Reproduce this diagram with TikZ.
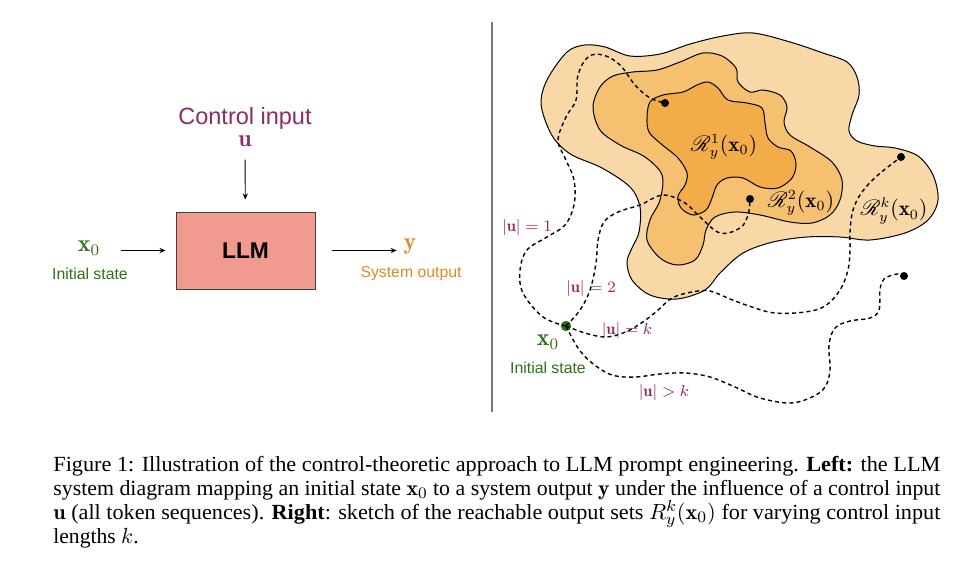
\documentclass[tikz,border=0pt]{standalone}
\usepackage{fontspec}
\usepackage{amsmath}
\usepackage{mathrsfs}
\usepackage{graphicx}
\newfontfamily\hv{Liberation Sans}
\newfontfamily\tm{Liberation Serif}
\usetikzlibrary{arrows.meta}
\definecolor{cpurple}{RGB}{142,42,102}
\definecolor{cgreen}{RGB}{46,112,22}
\definecolor{corange}{RGB}{218,140,36}
\definecolor{llmfill}{RGB}{241,154,143}
\definecolor{blobA}{RGB}{249,216,167}
\definecolor{blobB}{RGB}{245,192,112}
\definecolor{blobC}{RGB}{242,172,74}
\definecolor{sepgray}{RGB}{120,120,120}
\tikzset{
  arr/.style={-{Stealth[length=3pt,width=2.6pt]}, line width=0.45pt},
  blob/.style={draw=black, line width=0.5pt},
  traj/.style={line width=0.7pt, dash pattern=on 2pt off 1.6pt},
  dotn/.style={circle, fill=black, inner sep=0pt, minimum size=4pt},
  ulab/.style={text=cpurple, font=\fontsize{8.2}{9}\selectfont, inner sep=0pt},
  rlab/.style={font=\fontsize{10.5}{12}\selectfont, inner sep=0pt},
  bigm/.style={font=\fontsize{12}{14}\selectfont},
  sans/.style={font=\hv\fontsize{7.9}{9}\selectfont},
  capline/.style={anchor=base west, inner sep=0pt, font=\tm\fontsize{10.8}{13}\selectfont}
}
\newcommand{\capfit}[1]{\resizebox{443.5pt}{\height}{#1}}
\begin{document}
\begin{tikzpicture}[x=0.5pt,y=-0.5pt]
\useasboundingbox (0,0) rectangle (978,573);

% ---------- left: block diagram ----------
\node[text=cpurple, font=\hv\fontsize{11.75}{14}\selectfont] (ctl) at (245,118) {Control input};
\node[text=cpurple, bigm] (u) at (245,141) {$\mathbf{u}$};
\node[draw=black!75, line width=0.5pt, fill=llmfill, minimum width=69.5pt, minimum height=38.5pt,
      font=\hv\bfseries\fontsize{11.4}{14}\selectfont] (llm) at (245.5,250.5) {LLM};
\node[text=cgreen, bigm] (x0l) at (89,248) {$\mathbf{x}_0$};
\node[text=cgreen, sans] (isl) at (90,274) {Initial state};
\node[text=corange, bigm] (yo) at (410,247) {$\mathbf{y}$};
\node[text=corange, sans] (so) at (411,274) {System output};

\draw[arr, shorten <=3pt, shorten >=6pt] (u) -- (llm);
\draw[arr, shorten <=7pt, shorten >=5pt] (x0l.east |- llm.west) -- (llm.west);
\draw[arr, shorten <=8pt, shorten >=0pt] (llm.east) -- (yo.west |- llm.east);

% ---------- separator ----------
\draw[sepgray, line width=1pt] (492,22) -- (492,412);

% ---------- right: reachable sets ----------
\filldraw[blob, fill=blobA] plot[smooth cycle, tension=0.55] coordinates {
 (541,100) (548,78) (567,52) (585,45) (605,47) (630,56) (660,54) (690,44) (723,36) (753,33)
 (790,42) (823,53) (847,62) (857,77) (859,95) (852,115) (849,131) (857,141) (875,146) (895,148)
 (918,156) (933,175) (938,200) (928,220) (905,233) (870,240) (840,237) (807,237) (773,242)
 (743,253) (720,273) (705,290) (677,299) (650,295) (632,280) (627,262) (632,248) (639,232)
 (640,207) (630,187) (602,168) (572,155) (555,140) (545,120)};
\filldraw[blob, fill=blobB] plot[smooth cycle, tension=0.55] coordinates {
 (593,107) (600,130) (620,145) (645,157) (662,175) (660,200) (650,220) (647,240) (660,258)
 (677,265) (695,260) (703,245) (706,230) (715,217) (735,212) (760,215) (790,222) (812,223)
 (830,215) (840,200) (842,180) (832,162) (810,147) (790,135) (784,122) (787,107) (780,95)
 (763,90) (750,92) (738,82) (736,68) (722,56) (703,53) (680,62) (657,70) (633,72) (613,76) (600,87)};
\filldraw[blob, fill=blobC] plot[smooth cycle, tension=0.55] coordinates {
 (647,118) (650,102) (663,95) (683,92) (697,85) (708,82) (718,88) (728,100) (747,103) (762,108)
 (765,123) (768,138) (778,147) (791,151) (796,164) (792,178) (778,188) (760,187) (743,178)
 (727,178) (717,185) (712,198) (706,210) (693,215) (681,208) (678,196) (685,185) (687,173)
 (678,158) (660,143) (649,132)};

% set labels
\node[rlab] (r1) at (724,147) {$\mathscr{R}_y^1(\mathbf{x}_0)$};
\node[rlab] (r2) at (801,203) {$\mathscr{R}_y^2(\mathbf{x}_0)$};
\node[rlab] (rk) at (894,211) {$\mathscr{R}_y^k(\mathbf{x}_0)$};

% end points
\node[circle, fill=cgreen, inner sep=0pt, minimum size=5.2pt] (x0) at (566,326) {};
\node[dotn] (d1) at (665,103) {};
\node[dotn] (d2) at (750,199) {};
\node[dotn] (d3) at (901,157) {};
\node[dotn] (d4) at (904,276) {};

% trajectories
\draw[traj] plot[smooth, tension=0.6] coordinates {
 (x0.center) (543,317) (523,293) (520,270) (527,250) (547,237) (565,225) (574,205) (574,180)
 (565,158) (558,140) (566,117) (576,100) (578,75) (588,57) (603,55) (620,65) (635,85) (650,98) (d1.center)};
\draw[traj] plot[smooth, tension=0.6] coordinates {
 (x0.center) (580,310) (590,290) (596,263) (598,240) (604,222) (618,212) (640,205) (663,195)
 (685,203) (700,217) (720,233) (740,228) (748,215) (d2.center)};
\draw[traj] plot[smooth, tension=0.6] coordinates {
 (x0.center) (585,333) (605,337) (623,333) (640,324) (657,311) (672,298) (692,292) (710,291)
 (730,299) (752,307) (775,313) (805,312) (825,306) (840,290) (848,270) (850,250) (850,232)
 (853,210) (862,192) (878,175) (d3.center)};
\draw[traj] plot[smooth, tension=0.6] coordinates {
 (x0.center) (578,348) (592,363) (612,375) (635,377) (660,374) (685,373) (710,377) (735,387)
 (760,398) (790,403) (812,397) (825,387) (830,370) (829,345) (835,328) (850,321) (870,318)
 (879,310) (880,290) (884,279) (897,274) (d4.center)};

% trajectory labels
\node[ulab] (l1) at (527,227) {$|\mathbf{u}| = 1$};
\node[ulab] (l2) at (591,288) {$|\mathbf{u}| = 2$};
\node[ulab] (lk) at (627,330) {$|\mathbf{u}| = k$};
\node[ulab] (lg) at (664,392) {$|\mathbf{u}| > k$};

\node[text=cgreen, bigm] (x0r) at (548,342) {$\mathbf{x}_0$};
\node[text=cgreen, sans] (isr) at (548,368) {Initial state};

% ---------- caption ----------
\node[capline] (c1) at (53,471) {\capfit{Figure 1: Illustration of the control-theoretic approach to LLM prompt engineering. \textbf{Left:} the LLM}};
\node[capline] (c2) at (53,495) {\capfit{system diagram mapping an initial state $\mathbf{x}_0$ to a system output $\mathbf{y}$ under the influence of a control input}};
\node[capline] (c3) at (53,519) {\capfit{$\mathbf{u}$ (all token sequences). \textbf{Right}: sketch of the reachable output sets $R_y^k(\mathbf{x}_0)$ for varying control input}};
\node[capline] (c4) at (53,543) {lengths $k$.};
\end{tikzpicture}
\end{document}
